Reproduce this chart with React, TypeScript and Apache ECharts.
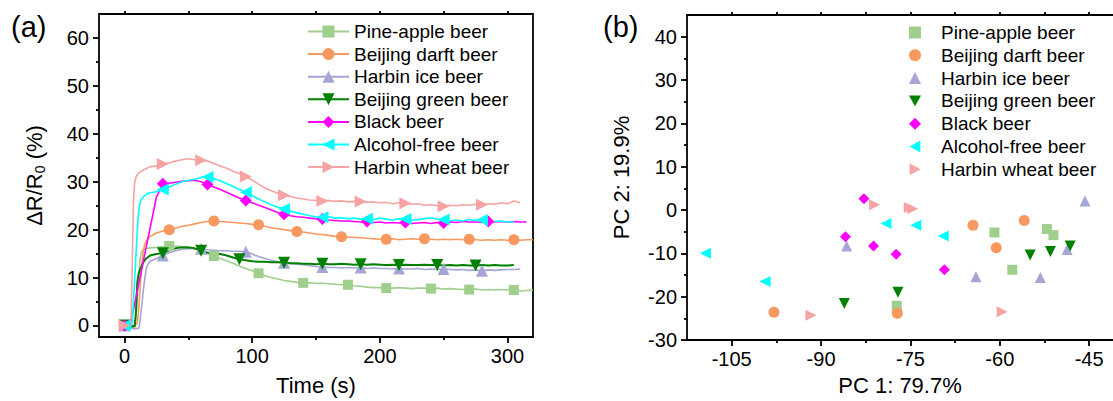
import React, { useEffect, useRef } from "react";
import * as echarts from "echarts";

const FONT = '"Liberation Sans", Arial, Helvetica, sans-serif';

// ---------- Panel (a) data ----------
const T_EARLY = [0, 1, 2, 3, 4, 5, 6, 7, 8, 9, 10, 11, 12, 13, 14, 15, 16, 17, 18, 19, 20];
const T_LATE = [
  25, 30, 35, 40, 45, 50, 55, 60, 65, 70,
  75, 80, 85, 90, 95, 100, 105, 110, 115, 120,
  125, 130, 135, 140, 145, 150, 155, 160, 165, 170,
  175, 180, 185, 190, 195, 200, 205, 210, 215, 220,
  225, 230, 235, 240, 245, 250, 255, 260, 265, 270,
  275, 280, 285, 290, 295, 300, 305, 310, 315, 320,
];

const NAMES = [
  "Pine-apple beer",
  "Beijing darft beer",
  "Harbin ice beer",
  "Beijing green beer",
  "Black beer",
  "Alcohol-free beer",
  "Harbin wheat beer",
];
const COLORS = ["#9fcf8c", "#f7995f", "#a5a5d6", "#008000", "#ff00ff", "#00ffff", "#f5a3a3"];

const pineEarly = [0, 0.1, -0.1, 0, -0.3, -0.2, -0.4, -0.3, -0.2, 2, 6, 10, 13.5, 15.2, 15.6, 15.8, 15.9, 16.0, 16.1, 16.1, 16.2];
const pineLate = [
  16.3, 16.5, 16.6, 16.6, 16.5, 16.4, 16.0, 15.5, 15.0, 14.5,
  14.0, 13.5, 13.0, 12.4, 11.9, 11.4, 10.9, 10.4, 10.0, 9.7,
  9.4, 9.2, 9.0, 8.9, 8.9, 8.8, 8.8, 8.7, 8.6, 8.5,
  8.5, 8.3, 8.2, 8.0, 7.9, 7.9, 7.8, 7.8, 7.9, 7.8,
  7.7, 7.8, 7.8, 7.7, 7.8, 7.6, 7.7, 7.6, 7.5, 7.5,
  7.6, 7.4, 7.5, 7.4, 7.5, 7.4, 7.4, 7.2, 7.3, 7.4,
];
const pineMarks = [0, 35, 70, 105, 140, 175, 205, 240, 270, 305];

const darftEarly = [0, -0.2, 0.1, -0.1, 0, -0.2, 0, 0.1, -0.1, 0.2, 0.5, 3, 7, 11, 14, 16, 17, 17.6, 18.0, 18.3, 18.6];
const darftLate = [
  19.3, 19.7, 20.0, 20.3, 20.7, 20.9, 21.2, 21.5, 21.7, 21.8,
  21.7, 21.6, 21.5, 21.4, 21.3, 21.1, 21.0, 20.7, 20.4, 20.2,
  20.0, 19.8, 19.6, 19.5, 19.3, 19.1, 19.0, 18.8, 18.6, 18.5,
  18.4, 18.4, 18.3, 18.2, 18.1, 18.0, 18.0, 18.1, 17.9, 18.0,
  18.1, 18.0, 18.1, 18.0, 17.9, 18.0, 17.9, 18.0, 17.9, 18.0,
  17.9, 17.8, 17.9, 17.8, 17.9, 17.8, 17.9, 17.8, 17.9, 17.9,
];
const darftMarks = [0, 35, 70, 105, 135, 170, 205, 235, 270, 305];

const iceEarly = [0, -0.3, -0.5, -0.6, -0.6, -0.7, -0.6, -0.7, -0.7, -0.6, -0.7, -0.6, 0.5, 3, 5.5, 8, 10, 11.8, 12.6, 13.1, 13.4];
const iceLate = [
  14.0, 14.6, 15.2, 15.6, 15.9, 16.0, 16.0, 16.0, 15.8, 15.7,
  15.6, 15.6, 15.5, 15.5, 15.4, 14.9, 14.4, 14.0, 13.6, 13.3,
  13.1, 12.9, 12.8, 12.7, 12.5, 12.3, 12.2, 12.1, 12.1, 12.0,
  12.1, 12.0, 12.1, 11.9, 12.0, 11.9, 11.9, 11.8, 11.9, 11.8,
  11.8, 11.9, 11.7, 11.8, 11.7, 11.8, 11.7, 11.6, 11.7, 11.5,
  11.6, 11.4, 11.6, 11.5, 11.6, 11.7, 11.7, 11.8,
];
const iceMarks = [0, 30, 60, 95, 125, 155, 185, 215, 250, 280];

const greenEarly = [0, 0.2, 0, -0.1, -0.2, -0.1, -0.2, -0.1, -0.2, 3, 9, 10.8, 11.5, 12.2, 12.8, 13.3, 13.7, 14.0, 14.2, 14.4, 14.6];
const greenLate = [
  14.9, 15.1, 15.7, 16.1, 16.3, 16.3, 16.1, 15.6, 15.2, 15.0,
  14.9, 14.6, 14.2, 13.8, 13.6, 13.4, 13.3, 13.3, 13.2, 13.2,
  13.1, 13.0, 13.0, 12.9, 12.9, 12.8, 12.9, 12.8, 12.8, 12.9,
  12.8, 12.7, 12.8, 12.7, 12.8, 12.7, 12.6, 12.7, 12.6, 12.7,
  12.6, 12.6, 12.7, 12.6, 12.6, 12.5, 12.6, 12.5, 12.6, 12.5,
  12.5, 12.6, 12.5, 12.6, 12.5, 12.5, 12.6,
];
const greenMarks = [0, 30, 60, 90, 125, 155, 185, 215, 245, 275];

const blackEarly = [0, 0.3, -0.2, 0, 0, 0.7, 2.0, 3.3, 4.6, 5.9, 7.2, 8.5, 9.8, 11.1, 12.4, 13.8, 15.1, 16.4, 17.7, 19.0, 20.3];
const blackLate = [
  26.8, 29.6, 29.7, 29.9, 30.1, 30.2, 30.3, 30.0, 29.4, 28.9,
  28.4, 27.8, 27.2, 26.6, 26.1, 25.6, 25.1, 24.6, 24.1, 23.6,
  23.2, 22.9, 22.7, 22.6, 22.4, 22.3, 22.2, 22.0, 21.9, 21.8,
  21.8, 21.7, 21.6, 21.7, 21.5, 21.6, 21.4, 21.5, 21.4, 21.5,
  21.3, 21.4, 21.5, 21.3, 21.5, 21.4, 21.6, 21.5, 21.7, 21.6,
  21.6, 21.5, 21.7, 21.6, 21.7, 21.6, 21.7, 21.6, 21.6,
];
const blackMarks = [0, 30, 65, 95, 125, 155, 190, 220, 250, 285];

const alcoholEarly = [0, -0.2, 0, -0.3, 0, -0.2, 0.5, 5, 10, 15, 20, 23.5, 25.5, 26.3, 26.6, 26.9, 27.1, 27.3, 27.5, 27.6, 27.7];
const alcoholLate = [
  27.9, 28.4, 28.9, 29.5, 30.0, 30.3, 30.5, 30.9, 31.0, 30.6,
  30.2, 29.6, 29.0, 28.4, 27.8, 27.1, 26.4, 25.8, 25.2, 24.7,
  24.3, 23.9, 23.5, 23.2, 22.9, 22.7, 22.6, 22.7, 22.4, 22.5,
  22.3, 22.4, 22.2, 22.3, 22.1, 22.4, 22.2, 22.0, 22.3, 22.2,
  22.0, 22.1, 22.3, 22.5, 22.2, 22.1, 21.9, 22.0, 21.8, 22.1,
  21.9, 22.0, 21.8, 21.7, 21.8, 21.6, 21.6,
];
const alcoholMarks = [0, 30, 65, 95, 125, 155, 190, 220, 250, 280];

const wheatEarly = [0, 0.2, 0, -0.2, 0, 0.3, 12, 26, 30, 31, 31.5, 31.8, 32, 32.2, 32.3, 32.5, 32.6, 32.7, 32.9, 33, 33.1];
const wheatLate = [
  33.3, 33.7, 33.9, 34.3, 34.6, 34.8, 34.6, 34.5, 34.3, 33.8,
  33.3, 32.8, 32.2, 31.7, 31.1, 30.3, 29.5, 28.7, 28.1, 27.6,
  27.2, 26.9, 26.6, 26.4, 26.2, 26.1, 26.0, 26.1, 25.9, 26.0,
  25.8, 25.9, 25.9, 25.7, 25.8, 25.6, 25.7, 25.4, 25.6, 25.5,
  25.3, 25.4, 25.1, 25.2, 25.0, 24.9, 25.1, 25.0, 25.2, 25.1,
  25.3, 25.2, 25.4, 25.3, 25.6, 25.4, 26.0, 25.6,
];
const wheatMarks = [0, 30, 60, 95, 125, 155, 185, 220, 250, 280];

const A_X_TICKS = [0, 100, 200, 300];
const A_X_MINOR = [50, 150, 250];
const A_X_TOP = [0, 50, 100, 150, 200, 250, 300];
const A_Y_TICKS = [0, 10, 20, 30, 40, 50, 60];
const A_Y_MINOR = [5, 15, 25, 35, 45, 55];

// ---------- Panel (b) data ----------
const pcaPine = [[-60.9, -5.2], [-57.9, -13.8], [-52.1, -4.4], [-51.0, -5.8], [-77.3, -22.1]];
const pcaDarft = [[-97.9, -23.6], [-64.5, -3.5], [-60.6, -8.7], [-55.9, -2.4], [-77.2, -23.8]];
const pcaIce = [[-85.7, -8.3], [-64.0, -15.4], [-48.7, -9.1], [-53.2, -15.6], [-45.7, 2.1]];
const pcaGreen = [[-86.1, -21.6], [-54.9, -10.4], [-51.5, -9.6], [-48.2, -8.3], [-77.1, -19.0]];
const pcaBlack = [[-82.8, 2.6], [-85.9, -6.2], [-81.2, -8.3], [-77.4, -10.2], [-69.3, -13.8]];
const pcaAlcohol = [[-109.4, -10.0], [-99.4, -16.5], [-79.1, -3.1], [-74.1, -3.5], [-69.5, -6.0]];
const pcaWheat = [[-91.7, -24.3], [-81.0, 1.2], [-75.2, 0.6], [-74.6, 0.3], [-59.6, -23.5]];

const B_X_TICKS = [-105, -90, -75, -60, -45];
const B_X_MINOR = [-97.5, -82.5, -67.5, -52.5];
const B_X_TOP = [-105, -97.5, -90, -82.5, -75, -67.5, -60, -52.5, -45];
const B_Y_TICKS = [-30, -20, -10, 0, 10, 20, 30, 40];
const B_Y_MINOR = [-25, -15, -5, 5, 15, 25, 35];

const SYM_DOWN = "path://M0,0L10,0L5,9Z";
const SYM_LEFT = "path://M10,0L10,10L1,5Z";
const SYM_RIGHT = "path://M0,0L0,10L9,5Z";
const SYMBOLS = ["rect", "circle", "triangle", SYM_DOWN, "diamond", SYM_LEFT, SYM_RIGHT];
const SYM_SIZES = [10, 11, 12, 12, 12, 12, 12];

const AX = { color: "#000", width: 1.8 };

function lineData(early: number[], late: number[], marks: number[]) {
  const out: any[] = [];
  const push = (t: number, v: number) => {
    if (marks.includes(t)) out.push({ value: [t, v] });
    else out.push({ value: [t, v], symbol: "none" });
  };
  early.forEach((v, i) => push(T_EARLY[i], v));
  late.forEach((v, i) => push(T_LATE[i], v));
  return out;
}

function valueAxis(extra: any): any {
  return {
    type: "value",
    splitLine: { show: false },
    axisLine: { onZero: false, lineStyle: AX },
    ...extra,
  };
}

function optionA(): any {
  const sets: [number[], number[], number[]][] = [
    [pineEarly, pineLate, pineMarks],
    [darftEarly, darftLate, darftMarks],
    [iceEarly, iceLate, iceMarks],
    [greenEarly, greenLate, greenMarks],
    [blackEarly, blackLate, blackMarks],
    [alcoholEarly, alcoholLate, alcoholMarks],
    [wheatEarly, wheatLate, wheatMarks],
  ];
  const xr = { min: -20, max: 320 };
  const yr = { min: -2.4, max: 65 };
  return {
    animation: false,
    backgroundColor: "#fff",
    textStyle: { fontFamily: FONT },
    grid: [{ left: 99, top: 14, width: 434, height: 324 }],
    legend: {
      orient: "vertical",
      left: 307,
      top: 21.5,
      padding: 0,
      itemWidth: 41,
      itemHeight: 15,
      itemGap: 2.6,
      selectedMode: false,
      data: NAMES,
      textStyle: { fontSize: 19, fontFamily: FONT, color: "#000", lineHeight: 20 },
    },
    graphic: [
      {
        type: "text",
        left: 11,
        top: 12,
        style: { text: "(a)", fontSize: 29, fontFamily: FONT, fill: "#000" },
      },
    ],
    xAxis: [
      valueAxis({
        ...xr,
        position: "bottom",
        axisTick: { customValues: A_X_TICKS, length: 6, lineStyle: AX },
        axisLabel: { customValues: A_X_TICKS, fontSize: 20, color: "#000", fontFamily: FONT, margin: 9 },
        name: "Time (s)",
        nameLocation: "middle",
        nameGap: 37,
        nameTextStyle: { fontSize: 22, color: "#000", fontFamily: FONT },
      }),
      valueAxis({
        ...xr,
        position: "bottom",
        axisLine: { show: false, onZero: false },
        axisTick: { customValues: A_X_MINOR, length: 3, lineStyle: AX },
        axisLabel: { show: false },
      }),
      valueAxis({
        ...xr,
        position: "top",
        axisTick: { customValues: A_X_TOP, length: 3, lineStyle: AX },
        axisLabel: { show: false },
      }),
    ],
    yAxis: [
      valueAxis({
        ...yr,
        position: "left",
        axisTick: { customValues: A_Y_TICKS, length: 6, lineStyle: AX },
        axisLabel: { customValues: A_Y_TICKS, fontSize: 20, color: "#000", fontFamily: FONT, margin: 10 },
        name: "{a|ΔR/R}{s|0}{a| (%)}",
        nameLocation: "middle",
        nameRotate: 90,
        nameGap: 52,
        nameTextStyle: {
          rich: {
            a: { fontSize: 22, color: "#000", fontFamily: FONT, lineHeight: 26 },
            s: { fontSize: 14, color: "#000", fontFamily: FONT, lineHeight: 14, verticalAlign: "bottom" },
          },
        },
      }),
      valueAxis({
        ...yr,
        position: "left",
        axisLine: { show: false, onZero: false },
        axisTick: { customValues: A_Y_MINOR, length: 3, lineStyle: AX },
        axisLabel: { show: false },
      }),
      valueAxis({
        ...yr,
        position: "right",
        axisTick: { show: false },
        axisLabel: { show: false },
      }),
    ],
    series: sets.map(([e, l, m], i) => ({
      type: "line",
      name: NAMES[i],
      xAxisIndex: 0,
      yAxisIndex: 0,
      data: lineData(e, l, m),
      symbol: SYMBOLS[i],
      symbolSize: SYM_SIZES[i],
      showSymbol: true,
      showAllSymbol: true,
      silent: true,
      clip: true,
      itemStyle: { color: COLORS[i] },
      lineStyle: { color: COLORS[i], width: i === 3 ? 2 : 1.6 },
      emphasis: { disabled: true },
    })),
  };
}

function optionB(): any {
  const pts = [pcaPine, pcaDarft, pcaIce, pcaGreen, pcaBlack, pcaAlcohol, pcaWheat];
  const xr = { min: -112.5, max: -41 };
  const yr = { min: -30, max: 45 };
  return {
    animation: false,
    backgroundColor: "#fff",
    textStyle: { fontFamily: FONT },
    grid: [{ left: 127, top: 15, width: 429, height: 326.7 }],
    legend: {
      orient: "vertical",
      left: 349,
      top: 22.5,
      padding: 0,
      itemWidth: 12,
      itemHeight: 12,
      itemGap: 2.8,
      selectedMode: false,
      data: NAMES,
      textStyle: { fontSize: 19, fontFamily: FONT, color: "#000", lineHeight: 20, padding: [0, 0, 0, 15] },
    },
    graphic: [
      {
        type: "text",
        left: 43,
        top: 12,
        style: { text: "(b)", fontSize: 29, fontFamily: FONT, fill: "#000" },
      },
    ],
    xAxis: [
      valueAxis({
        ...xr,
        position: "bottom",
        axisTick: { customValues: B_X_TICKS, length: 6, lineStyle: AX },
        axisLabel: { customValues: B_X_TICKS, fontSize: 20, color: "#000", fontFamily: FONT, margin: 9 },
        name: "PC 1: 79.7%",
        nameLocation: "middle",
        nameGap: 34,
        nameTextStyle: { fontSize: 22, color: "#000", fontFamily: FONT },
      }),
      valueAxis({
        ...xr,
        position: "bottom",
        axisLine: { show: false, onZero: false },
        axisTick: { customValues: B_X_MINOR, length: 3, lineStyle: AX },
        axisLabel: { show: false },
      }),
      valueAxis({
        ...xr,
        position: "top",
        axisTick: { customValues: B_X_TOP, length: 3, lineStyle: AX },
        axisLabel: { show: false },
      }),
    ],
    yAxis: [
      valueAxis({
        ...yr,
        position: "left",
        axisTick: { customValues: B_Y_TICKS, length: 6, lineStyle: AX },
        axisLabel: { customValues: B_Y_TICKS, fontSize: 20, color: "#000", fontFamily: FONT, margin: 10 },
        name: "PC 2: 19.9%",
        nameLocation: "middle",
        nameRotate: 90,
        nameGap: 55,
        nameTextStyle: { fontSize: 22, color: "#000", fontFamily: FONT },
      }),
      valueAxis({
        ...yr,
        position: "left",
        axisLine: { show: false, onZero: false },
        axisTick: { customValues: B_Y_MINOR, length: 3, lineStyle: AX },
        axisLabel: { show: false },
      }),
    ],
    series: pts.map((d, i) => ({
      type: "scatter",
      name: NAMES[i],
      xAxisIndex: 0,
      yAxisIndex: 0,
      data: d,
      symbol: SYMBOLS[i],
      symbolSize: i === 0 ? 10 : 11,
      silent: true,
      itemStyle: { color: COLORS[i], opacity: 1 },
      emphasis: { disabled: true },
    })),
  };
}

export default function App() {
  const refA = useRef<HTMLDivElement>(null);
  const refB = useRef<HTMLDivElement>(null);
  useEffect(() => {
    const a = echarts.init(refA.current!, null, { renderer: "svg" });
    const b = echarts.init(refB.current!, null, { renderer: "svg" });
    a.setOption(optionA());
    b.setOption(optionB());
    return () => {
      a.dispose();
      b.dispose();
    };
  }, []);
  return (
    <div style={{ position: "absolute", left: 0, top: 0, width: 1113, height: 401, overflow: "hidden", background: "#fff" }}>
      <div ref={refA} style={{ position: "absolute", left: 0, top: 0, width: 560, height: 401 }} />
      <div ref={refB} style={{ position: "absolute", left: 560, top: 0, width: 553, height: 401 }} />
    </div>
  );
}
